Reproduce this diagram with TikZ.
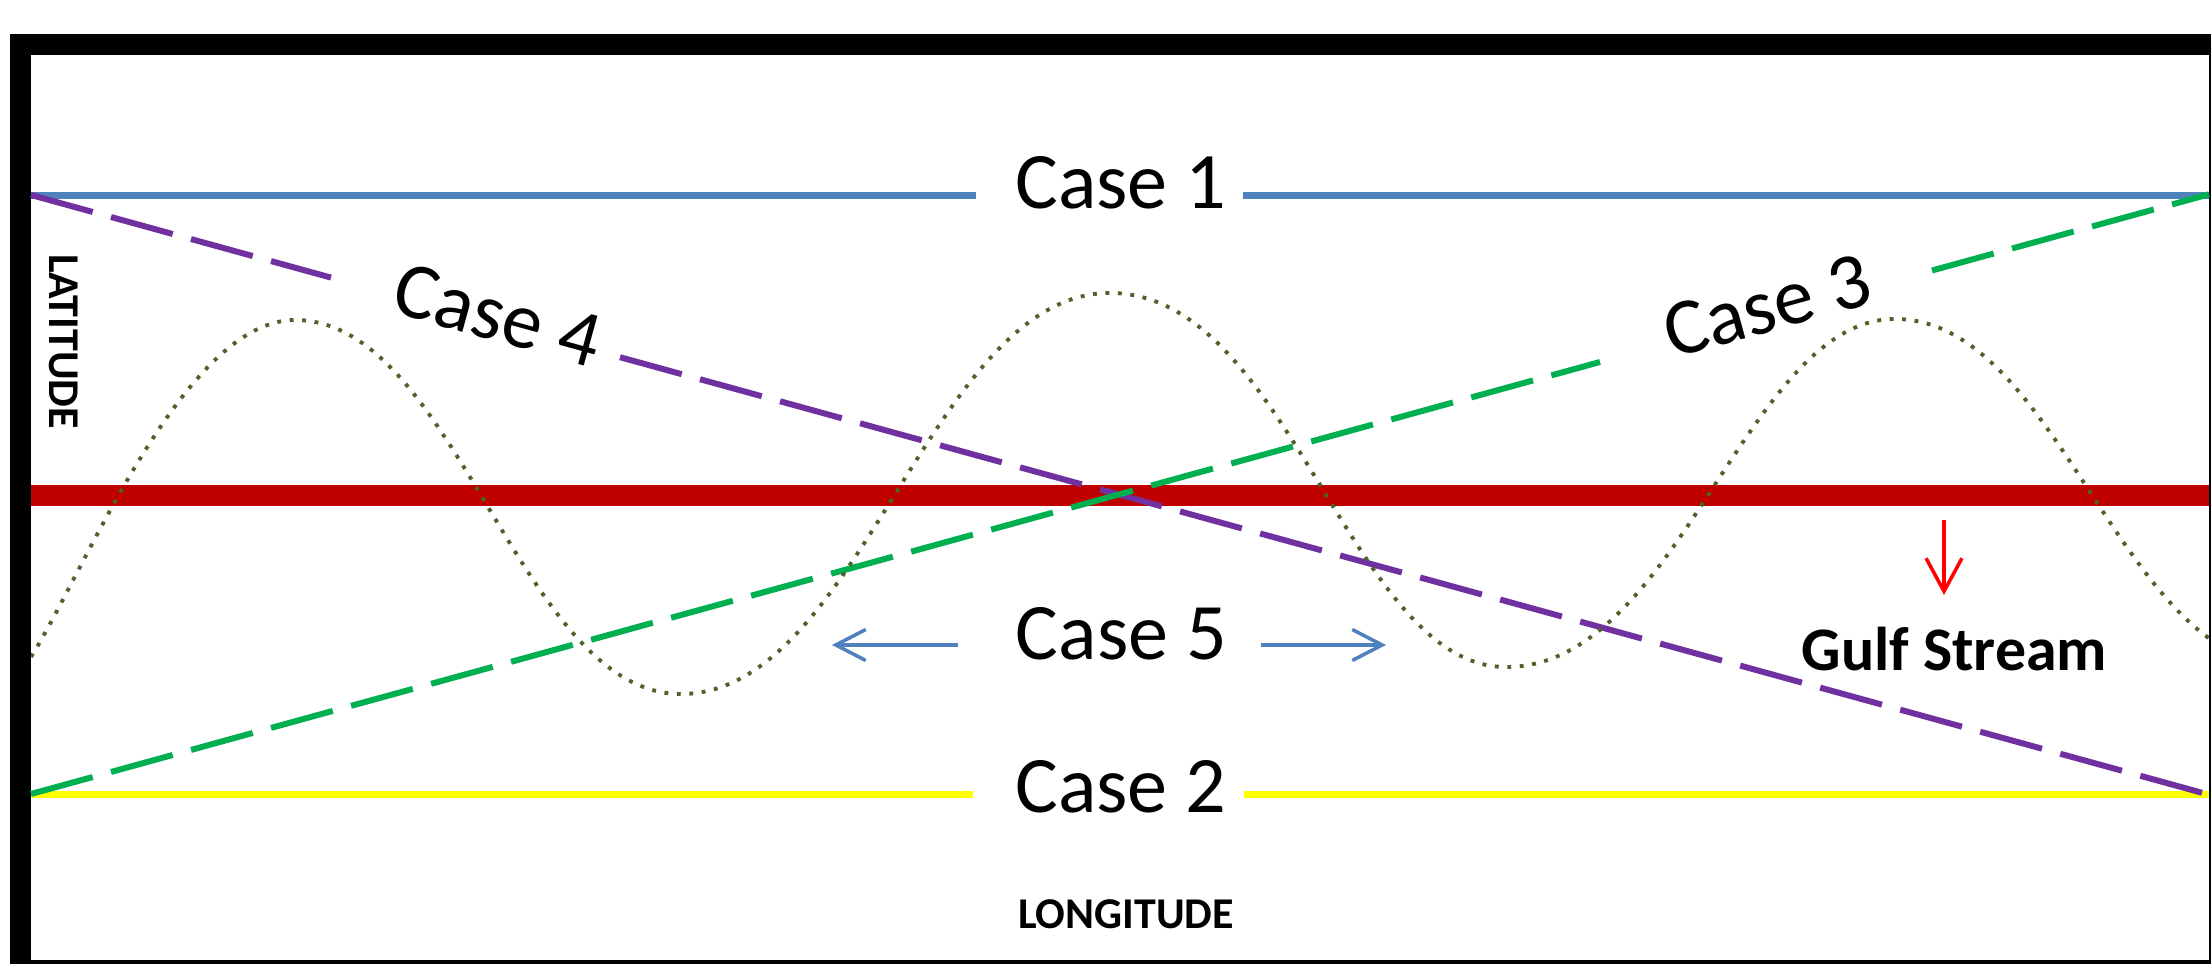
\documentclass[tikz,border=0pt]{standalone}
\usepackage{fontspec}
\setmainfont{Carlito}
\usetikzlibrary{arrows.meta}
\definecolor{cblue}{HTML}{4F81BD}
\definecolor{cpurple}{HTML}{7030A0}
\definecolor{cgreen}{HTML}{00B050}
\definecolor{cred}{HTML}{C00000}
\definecolor{cyellow}{HTML}{FFFF00}
\definecolor{colive}{HTML}{4F6228}
\begin{document}
\begin{tikzpicture}[x=0.01cm,y=-0.01cm,
  caselbl/.style={font=\fontsize{22.8}{27}\selectfont, inner sep=0pt},
  axislbl/.style={font=\bfseries\fontsize{12.5}{15}\selectfont, inner sep=0pt},
  dashline/.style={line width=1.7pt, dash pattern=on 18.2pt off 5.4pt},
  solidline/.style={line width=2pt},
  wave/.style={colive, line width=1.1pt, dash pattern=on 1.1pt off 2.45pt},
  bluearrow/.style={cblue, line width=1pt, -{Straight Barb[length=8.5pt,width=8.8pt]}},
  redarrow/.style={red, line width=1pt, -{Straight Barb[length=9.4pt,width=10.2pt]}}]
\useasboundingbox (0,0) rectangle (2211,964);
\fill[white] (0,0) rectangle (2211,964);
% frame
\fill[black] (10,34) rectangle (2211,55);
\fill[black] (10,34) rectangle (31,964);
\fill[black] (2209,55) rectangle (2211,964);
\fill[black] (10,960) rectangle (2211,964);
% coordinates
\coordinate (r0) at (31,495.5);   \coordinate (r1) at (2209,495.5);
\coordinate (b0) at (31,195.5);   \coordinate (b1) at (976,195.5);
\coordinate (b2) at (1243,195.5); \coordinate (b3) at (2209,195.5);
\coordinate (y0) at (31,794.5);   \coordinate (y1) at (973,794.5);
\coordinate (y2) at (1244,794.5); \coordinate (y3) at (2209,794.5);
\coordinate (p0) at (31,195);     \coordinate (p1) at (331,277.6);
\coordinate (p2) at (620,357.2);  \coordinate (p3) at (2209,794.7);
\coordinate (g0) at (31,794);     \coordinate (g1) at (1600,362);
\coordinate (g2) at (1932,270.5); \coordinate (g3) at (2209,194.3);
% red Gulf Stream line
\draw[cred, line width=6pt] (r0) -- (r1);
% case 1 and case 2 lines
\draw[cblue, solidline] (b0) -- (b1);
\draw[cblue, solidline] (b2) -- (b3);
\draw[cyellow, solidline] (y0) -- (y1);
\draw[cyellow, solidline] (y2) -- (y3);
% case 4 and case 3 dashed lines
\draw[cpurple, dashline] (p0) -- (p1);
\draw[cpurple, dashline] (p2) -- (p3);
\draw[cgreen, dashline] (g0) -- (g1);
\draw[cgreen, dashline] (g2) -- (g3);
% meander
\begin{scope}
\clip (31,55) rectangle (2209,960);
\draw[wave] (31,657) .. controls (86,569) and (184,320) .. (295,320)
  .. controls (457,320) and (519,694) .. (681,694)
  .. controls (861,694) and (930,293) .. (1110,293)
  .. controls (1290,293) and (1350,667) .. (1506,667)
  .. controls (1680,667) and (1745,319) .. (1895,319)
  .. controls (2059,319) and (2121,665) .. (2285,665);
\end{scope}
% labels
\node[caselbl, anchor=base] (case1) at (1121,209) {Case 1};
\node[caselbl, anchor=base] (case2) at (1121,812) {Case 2};
\node[caselbl, rotate=15.4] (case3) at (1767,306) {Case 3};
\node[caselbl, rotate=-15.4] (case4) at (498,315) {Case 4};
\node[caselbl, anchor=base] (case5) at (1121.5,660) {Case 5};
\node[axislbl, rotate=-90] (lat) at (63.5,341.5) {LATITUDE};
\node[axislbl, anchor=base] (lon) at (1126,929) {LONGITUDE};
\node[font=\bfseries\fontsize{17.6}{21}\selectfont, inner sep=0pt, anchor=base] (gulf) at (1954.5,671) {Gulf Stream};
% arrows
\coordinate (a5la) at (958,645);  \coordinate (a5lb) at (832,645);
\coordinate (a5ra) at (1261,645); \coordinate (a5rb) at (1386,645);
\draw[bluearrow] (a5la) -- (a5lb);
\draw[bluearrow] (a5ra) -- (a5rb);
\coordinate (gsa) at (1944,520);  \coordinate (gsb) at (1944,595);
\draw[redarrow] (gsa) -- (gsb);
\end{tikzpicture}
\end{document}
